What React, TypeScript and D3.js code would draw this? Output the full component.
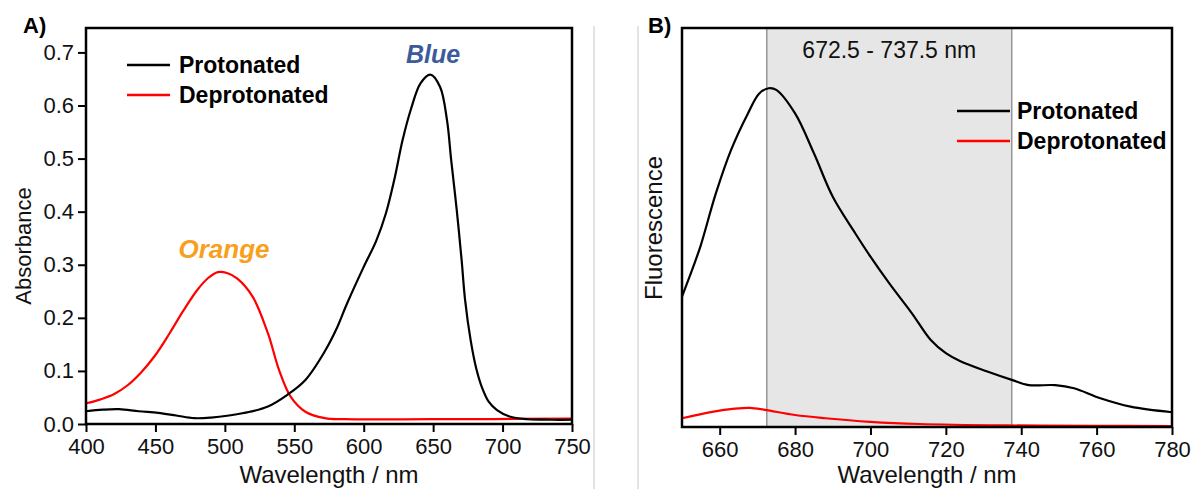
import React, { useRef, useEffect } from "react";
import * as d3 from "d3";

// absorbance spectra, panel A  [wavelength nm, absorbance]
const protonatedAbs: [number, number][] = [
  [400, 0.024], [412, 0.027], [424, 0.028], [438, 0.024], [452, 0.021], [465, 0.016],
  [478, 0.011], [490, 0.012], [503, 0.016], [518, 0.023], [531, 0.033], [545, 0.055],
  [558, 0.083], [572, 0.137], [580, 0.177], [588, 0.227], [600, 0.296], [609, 0.345],
  [616, 0.397], [622, 0.46], [628, 0.535], [634, 0.593], [641, 0.642], [648, 0.658],
  [655, 0.635], [660, 0.572], [663, 0.497], [667, 0.403], [670.5, 0.309], [673, 0.234],
  [677, 0.158], [681, 0.105], [685, 0.07], [690, 0.042], [696, 0.026], [705, 0.014],
  [718, 0.009], [735, 0.008], [750, 0.008],
];
const deprotonatedAbs: [number, number][] = [
  [400, 0.039], [410, 0.046], [420, 0.056], [430, 0.073], [440, 0.098], [450, 0.13],
  [460, 0.17], [470, 0.213], [480, 0.252], [488, 0.275], [495, 0.286], [502, 0.284],
  [509, 0.274], [520, 0.24], [531, 0.171], [539, 0.102], [547.5, 0.051], [558, 0.023],
  [572, 0.011], [586, 0.009], [650, 0.009], [750, 0.01],
];

// fluorescence spectra, panel B  [wavelength nm, arbitrary units]
const protonatedFluo: [number, number][] = [
  [650, 32.7], [653, 40.2], [655, 45.6], [659, 58.6], [663, 69.4], [667.5, 78.6],
  [670.5, 83.6], [673, 84.9], [675, 84.5], [680, 78.6], [685, 68.6], [690, 57.7],
  [696, 48.5], [700, 42.7], [705, 36.0], [711, 28.5], [716, 21.8], [720, 18.5],
  [724, 16.4], [731, 13.9], [737.5, 11.8], [742, 10.5], [749, 10.5], [754, 9.7],
  [761, 7.2], [769, 5.1], [780, 3.7],
];
const deprotonatedFluo: [number, number][] = [
  [650, 2.2], [658, 3.8], [664, 4.6], [668, 4.8], [672, 4.3], [680, 3.0], [688, 2.2],
  [700, 1.3], [713, 0.75], [736, 0.4], [760, 0.3], [780, 0.2],
];

const ticksA_x = [400, 450, 500, 550, 600, 650, 700, 750];
const ticksA_y = [0, 0.1, 0.2, 0.3, 0.4, 0.5, 0.6, 0.7];
const ticksB_x = [660, 680, 700, 720, 740, 760, 780];
const detectionWindow = [672.5, 737.5];
const legendLabels = ["Protonated", "Deprotonated"];
const seriesColors = ["#000000", "#ff0000"];

const FONT = "Liberation Sans, Arial, Helvetica, sans-serif";

const Axis = ({ axis, transform, fontSize }) => {
  const ref = useRef(null);
  useEffect(() => {
    const g = d3.select(ref.current);
    g.call(axis);
    g.select(".domain").remove();
    g.attr("font-family", FONT).attr("font-size", fontSize);
    g.selectAll(".tick line").attr("stroke", "#000").attr("stroke-width", 2);
    g.selectAll(".tick text").attr("fill", "#111");
  }, [axis, fontSize]);
  return <g ref={ref} transform={transform} />;
};

const App = () => {
  // panel A scales
  const xA = d3.scaleLinear().domain([400, 750]).range([86, 572]);
  const yA = d3.scaleLinear().domain([0, 0.746]).range([424, 28]);
  // panel B scales
  const xB = d3.scaleLinear().domain([650, 780]).range([682, 1172]);
  const yB = d3.scaleLinear().domain([0, 100]).range([427, 28]);

  const lineA = d3.line<[number, number]>()
    .x(d => xA(d[0]))
    .y(d => yA(d[1]))
    .curve(d3.curveCatmullRom.alpha(0.5));
  const lineB = d3.line<[number, number]>()
    .x(d => xB(d[0]))
    .y(d => yB(d[1]))
    .curve(d3.curveCatmullRom.alpha(0.5));

  const axisAx = d3.axisBottom(xA).tickValues(ticksA_x).tickSize(8).tickPadding(6);
  const axisAy = d3.axisLeft(yA).tickValues(ticksA_y).tickSize(8).tickPadding(4)
    .tickFormat(d3.format(".1f"));
  const axisBx = d3.axisBottom(xB).tickValues(ticksB_x).tickSize(8).tickPadding(6);

  const [a0, a1] = xA.range();
  const [b0, b1] = xB.range();

  return (
    <svg
      width={1194}
      height={489}
      style={{ position: "absolute", left: 0, top: 0, background: "#fff" }}
      fontFamily={FONT}
    >
      {/* panel separators */}
      <line x1={594} x2={594} y1={26} y2={489} stroke="#c8c8c8" />
      <line x1={638} x2={638} y1={26} y2={489} stroke="#c8c8c8" />

      {/* ---------- panel A ---------- */}
      <text x={23} y={33} fontSize={22} fontWeight="bold">A)</text>
      <path d={lineA(deprotonatedAbs)} fill="none" stroke={seriesColors[1]} strokeWidth={2.2} />
      <path d={lineA(protonatedAbs)} fill="none" stroke={seriesColors[0]} strokeWidth={2.2} />
      <rect x={a0} y={yA.range()[1]} width={a1 - a0} height={yA.range()[0] - yA.range()[1]}
        fill="none" stroke="#000" strokeWidth={2.5} />
      <Axis axis={axisAx} transform={`translate(0, ${yA.range()[0]})`} fontSize={22} />
      <Axis axis={axisAy} transform={`translate(${a0}, 0)`} fontSize={22} />
      <text x={(a0 + a1) / 2} y={483} fontSize={24} textAnchor="middle" fill="#111">
        Wavelength / nm
      </text>
      <text transform={`translate(31, 246) rotate(-90)`} fontSize={22} textAnchor="middle" fill="#111">
        Absorbance
      </text>
      <text x={433} y={63} fontSize={25} fontWeight="bold" fontStyle="italic"
        textAnchor="middle" fill="#3d5b9b">Blue</text>
      <text x={224} y={258} fontSize={26} fontWeight="bold" fontStyle="italic"
        textAnchor="middle" fill="#f8a01c">Orange</text>
      {legendLabels.map((label, i) => (
        <g key={label} transform={`translate(127, ${65 + i * 30})`}>
          <line x1={0} x2={43} stroke={seriesColors[i]} strokeWidth={2.5} />
          <text x={52} dy="0.35em" fontSize={23} fontWeight="bold">{label}</text>
        </g>
      ))}

      {/* ---------- panel B ---------- */}
      <text x={648} y={33} fontSize={22} fontWeight="bold">B)</text>
      <rect x={xB(detectionWindow[0])} y={yB.range()[1]}
        width={xB(detectionWindow[1]) - xB(detectionWindow[0])}
        height={yB.range()[0] - yB.range()[1]} fill="#e6e6e6" />
      {detectionWindow.map(w => (
        <line key={w} x1={xB(w)} x2={xB(w)} y1={yB.range()[1]} y2={yB.range()[0]}
          stroke="#7f7f7f" strokeWidth={1.2} />
      ))}
      <text x={(xB(detectionWindow[0]) + xB(detectionWindow[1])) / 2} y={58}
        fontSize={23} textAnchor="middle" fill="#111">672.5 - 737.5 nm</text>
      <path d={lineB(deprotonatedFluo)} fill="none" stroke={seriesColors[1]} strokeWidth={2.2} />
      <path d={lineB(protonatedFluo)} fill="none" stroke={seriesColors[0]} strokeWidth={2.2} />
      <rect x={b0} y={yB.range()[1]} width={b1 - b0} height={yB.range()[0] - yB.range()[1]}
        fill="none" stroke="#000" strokeWidth={2.5} />
      <Axis axis={axisBx} transform={`translate(0, ${yB.range()[0]})`} fontSize={22} />
      <text x={(b0 + b1) / 2} y={483} fontSize={24} textAnchor="middle" fill="#111">
        Wavelength / nm
      </text>
      <text transform={`translate(662, 228) rotate(-90)`} fontSize={24} textAnchor="middle" fill="#111">
        Fluorescence
      </text>
      {legendLabels.map((label, i) => (
        <g key={label} transform={`translate(957, ${111 + i * 30})`}>
          <line x1={0} x2={53} stroke={seriesColors[i]} strokeWidth={2.5} />
          <text x={60} dy="0.35em" fontSize={23} fontWeight="bold">{label}</text>
        </g>
      ))}
    </svg>
  );
};

export default App;
